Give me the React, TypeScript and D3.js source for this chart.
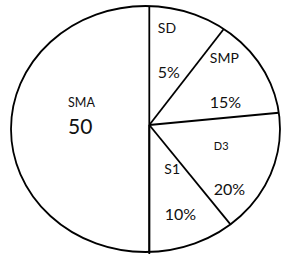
import { useEffect, useRef } from 'react'
import * as d3 from 'd3'

// slice order, clockwise from 12 o'clock
const NAMES = ['SD', 'SMP', 'D3', 'S1', 'SMA']
const VALUE_LABELS = ['5%', '15%', '20%', '10%', '50']
// angular share each slice takes in the drawing (percent of full turn)
const SHARES = [10.5, 13.0, 15.6, 10.9, 50]

const W = 281, H = 254
const HUB = { x: 149.3, y: 125 }
const ELL = { cx: 145.5, cy: 129, rx: 134.5, ry: 123 }
// label layout: offsets from the hub (left x, baseline) and font sizes
const LBL = [
  { n: [8.5, -92], v: [8.5, -47], ns: 14, vs: 16 },
  { n: [60.5, -62], v: [60.5, -17], ns: 14, vs: 16 },
  { n: [64.5, 25], v: [64.5, 70], ns: 11, vs: 16 },
  { n: [15, 49], v: [15.5, 95], ns: 14, vs: 16 },
  { n: [-81.3, -18], v: [-81.3, 8.5], ns: 12.5, vs: 21 },
]

export default function App() {
  const ref = useRef<SVGSVGElement>(null)
  useEffect(() => {
    document.body.style.margin = '0'
    const svg = d3.select(ref.current)
    svg.selectAll('*').remove()
    const pie = d3.pie<number>().value(d => d).sort(null)
    const arcs = pie(SHARES)

    svg.append('ellipse')
      .attr('cx', ELL.cx).attr('cy', ELL.cy).attr('rx', ELL.rx).attr('ry', ELL.ry)
      .attr('fill', '#fff').attr('stroke', '#000').attr('stroke-width', 1.8)

    // ray from hub to ellipse edge at angle a (clockwise from top)
    const edge = (a: number) => {
      const dx = Math.sin(a), dy = -Math.cos(a)
      const u = (HUB.x - ELL.cx) / ELL.rx, v = (HUB.y - ELL.cy) / ELL.ry
      const p = dx / ELL.rx, q = dy / ELL.ry
      const A = p * p + q * q, B = 2 * (u * p + v * q), C = u * u + v * v - 1
      const t = (-B + Math.sqrt(B * B - 4 * A * C)) / (2 * A)
      return [HUB.x + t * dx, HUB.y + t * dy]
    }

    svg.append('g').selectAll('line').data(arcs).join('line')
      .attr('x1', HUB.x).attr('y1', HUB.y)
      .attr('x2', d => edge(d.startAngle)[0]).attr('y2', d => edge(d.startAngle)[1])
      .attr('stroke', '#000').attr('stroke-width', 1.8)
    // bottom half of the vertical divider runs to the page edge
    const e = edge(Math.PI)
    svg.append('line').attr('x1', HUB.x).attr('y1', HUB.y).attr('x2', e[0]).attr('y2', H)
      .attr('stroke', '#000').attr('stroke-width', 1.8)

    const g = svg.append('g').style('font-family', 'Lato, "Open Sans", sans-serif').attr('fill', '#111')
    arcs.forEach((_, i) => {
      const L = LBL[i]
      g.append('text').attr('x', HUB.x + L.n[0]).attr('y', HUB.y + L.n[1])
        .style('font-size', `${L.ns}px`).text(NAMES[i])
      g.append('text').attr('x', HUB.x + L.v[0]).attr('y', HUB.y + L.v[1])
        .style('font-size', `${L.vs}px`).text(VALUE_LABELS[i])
    })
  }, [])
  return <svg ref={ref} width={W} height={H} style={{ display: 'block' }} />
}
